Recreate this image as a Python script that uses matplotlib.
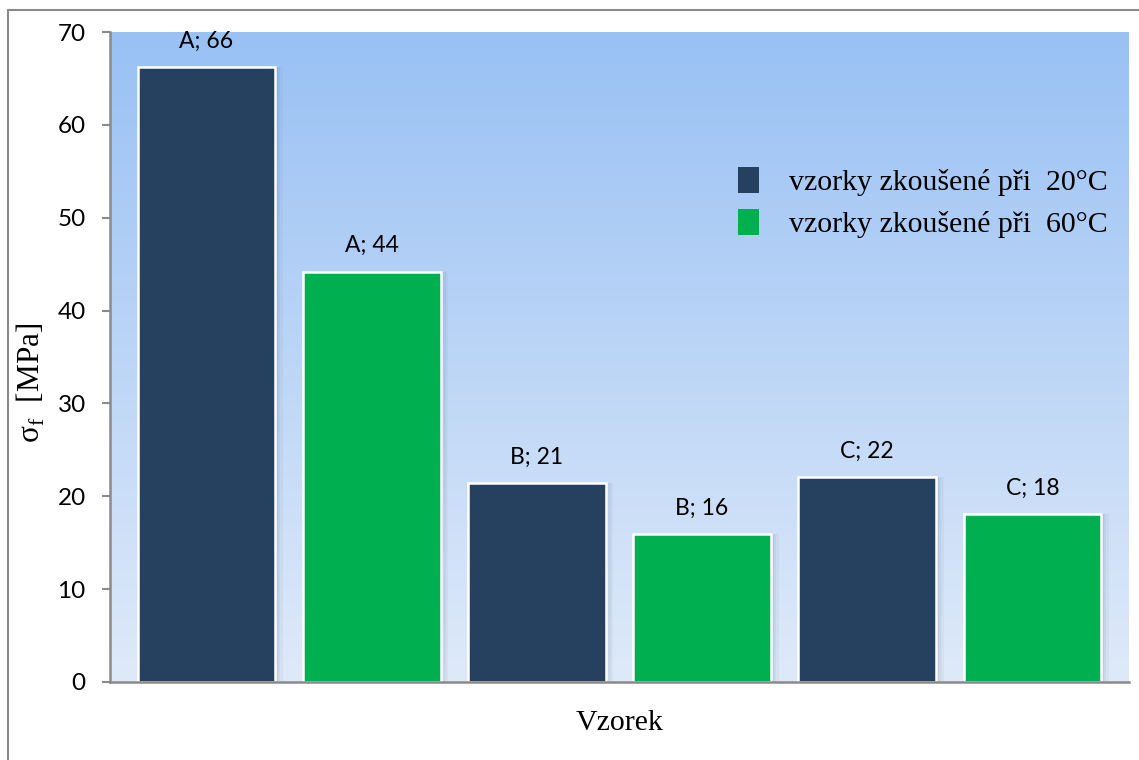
import numpy as np
import matplotlib.pyplot as plt
from matplotlib.patches import Rectangle, Patch
from matplotlib.colors import LinearSegmentedColormap

groups = ['A', 'A', 'B', 'B', 'C', 'C']
values = [66.2, 44.2, 21.4, 15.9, 22.1, 18.1]
series = ['vzorky zkoušené při  20°C', 'vzorky zkoušené při  60°C']
colors = ['#264060', '#00B050']
yticks = [0, 10, 20, 30, 40, 50, 60, 70]

serif = 'Liberation Serif'
sans = 'Lato'

fig = plt.figure(figsize=(11.39, 7.6), dpi=100)
ax = fig.add_axes([110 / 1139, 78 / 760, 1019 / 1139, 650 / 760])

# outer border (cut at right and bottom like the reference)
fig.patches.append(Rectangle((8 / 1139, -0.05), 1.1, 0.05 + 750 / 760,
                             transform=fig.transFigure, fill=False,
                             edgecolor='#8a8a8a', linewidth=1.5))

# gradient background
grad = LinearSegmentedColormap.from_list('bg', ['#DFEAF9', '#99C1F4'])
ax.imshow(np.linspace(0, 1, 256).reshape(-1, 1), cmap=grad, aspect='auto',
          extent=[0, 1, 0, 1], transform=ax.transAxes, origin='lower', zorder=0)

x = np.arange(len(values))
bar_colors = [colors[i % 2] for i in range(len(values))]

# soft shadow
for dx, a in [(0.045, 0.06), (0.03, 0.08), (0.015, 0.1)]:
    ax.bar(x + dx, values, width=0.835, color='#5a6a80', alpha=a,
           linewidth=0, zorder=1)
bars = ax.bar(x, values, width=0.835, color=bar_colors, edgecolor='white',
              linewidth=1.8, zorder=2)

for xi, g, v in zip(x, groups, values):
    ax.annotate(f'{g}; {round(v)}', (xi, v), xytext=(0, 11),
                textcoords='offset points', ha='center', va='bottom',
                fontsize=16.5, family=sans, zorder=3)

ax.set_xlim(-0.584, 5.584)
ax.set_ylim(0, 70)
ax.set_yticks(yticks)
ax.set_xticks([])
for lab in ax.get_yticklabels():
    lab.set_family(sans)
    lab.set_fontsize(17.5)
ax.tick_params(axis='y', length=5.5, width=1.5, color='#8a8a8a', pad=12)

for s in ['top', 'right']:
    ax.spines[s].set_visible(False)
for s in ['left', 'bottom']:
    ax.spines[s].set_color('#8a8a8a')
    ax.spines[s].set_linewidth(1.8)
    ax.spines[s].set_zorder(4)

ax.set_xlabel('Vzorek', family=serif, fontsize=21.5, labelpad=20)
ax.set_ylabel(r'σ$_\mathregular{f}$  [MPa]', family=serif, fontsize=22.5)
ax.yaxis.set_label_coords(-0.062, 0.46)

handles = [Patch(facecolor=c, edgecolor='none') for c in colors]
leg = ax.legend(handles, series, loc='upper left',
                bbox_to_anchor=(0.59, 0.834), frameon=False,
                prop={'family': serif, 'size': 21.5}, handlelength=0.7,
                handleheight=0.95, handletextpad=1.0, labelspacing=0.45)

fig.savefig('out.png', dpi=100)
